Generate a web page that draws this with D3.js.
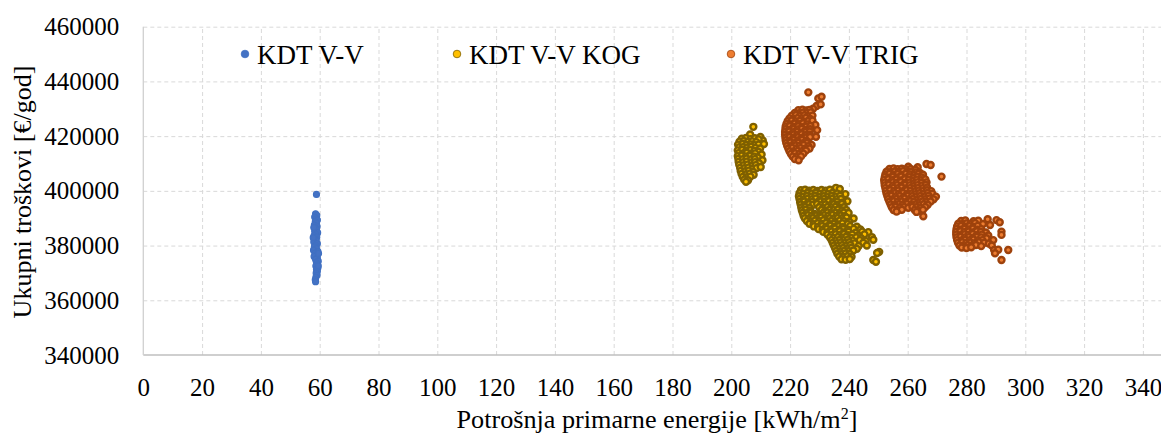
<!DOCTYPE html>
<html>
<head>
<meta charset="utf-8">
<script src="https://cdn.jsdelivr.net/npm/d3@7"></script>
<style>
  html, body { margin: 0; padding: 0; background: #fff; }
  svg { display: block; font-family: "Liberation Serif", "Times New Roman", serif; }
</style>
</head>
<body>
<svg id="chart" width="1161" height="434"></svg>
<script>
// Axis ticks
const xTicks = [0, 20, 40, 60, 80, 100, 120, 140, 160, 180, 200, 220, 240, 260, 280, 300, 320, 340];
const yTicks = [340000, 360000, 380000, 400000, 420000, 440000, 460000];

const seriesNames = ["KDT V-V", "KDT V-V KOG", "KDT V-V TRIG"];

// [primary energy kWh/m2, total cost EUR/year]
const vvPoints = [
  [58.9,398700],[58.6,391600],[59.0,391000],[58.3,390400],[58.8,389800],[59.2,389300],[58.5,388700],
  [58.9,388100],[58.2,387500],[59.1,387000],[58.6,386400],[58.9,385800],[58.3,385200],[59.3,384700],
  [58.7,384100],[58.1,383600],[59.0,383000],[58.5,382400],[58.8,381800],[58.0,381300],[59.2,380700],
  [58.6,380100],[58.2,379500],[58.9,378900],[57.9,378300],[59.4,377800],[58.4,377200],[58.8,376600],
  [58.1,376000],[59.2,375500],[58.6,374900],[59.5,374300],[58.9,373700],[59.2,373100],[58.7,372500],
  [59.4,371900],[58.9,371300],[59.2,370600],[58.8,369900],[59.1,369200],[58.7,368400],[58.5,367500],
  [58.6,366800],[57.8,382900],[59.6,377100],[58.0,386600],[59.5,372600]
];

const kogPoints = [
  // first group
  [207.5,423400],[206.4,420600],[209.9,419700],[210.7,418400],
  [203.6,419100],[205.0,419300],[206.5,418900],[208.0,419200],[209.3,418800],
  [202.8,418000],[204.2,418200],[205.7,417900],[207.1,418100],[208.5,417800],
  [202.3,416900],[203.8,417100],[205.2,416800],[206.6,417000],[208.0,416700],[209.3,416900],[211.1,417100],
  [202.6,415900],[204.0,416000],[205.4,415800],[206.8,416100],[208.2,415700],[209.8,415500],
  [202.2,414800],[203.7,415000],[205.1,414700],[206.5,414900],[207.9,414600],[209.2,414300],
  [202.5,413800],[203.9,413600],[205.3,413900],[206.7,413500],[208.1,413700],[210.3,413300],
  [202.2,412700],[203.6,412900],[205.0,412600],[206.4,412800],[207.8,412500],[209.0,412200],
  [202.4,411700],[203.8,411500],[205.2,411800],[206.6,411400],[208.0,411600],[210.6,411200],
  [202.5,410600],[203.9,410400],[205.3,410700],[206.7,410300],[208.1,410500],[209.4,410100],
  [202.7,409500],[204.1,409300],[205.5,409600],[206.9,409200],[208.3,409400],
  [203.0,408400],[204.4,408200],[205.8,408500],[207.2,408100],[208.6,408300],[210.0,408700],
  [203.2,407300],[204.6,407100],[206.0,407400],[207.4,407000],
  [203.5,406200],[204.9,406000],[206.3,406300],[207.6,405900],
  [203.9,405100],[205.2,404900],[206.5,405200],
  [204.4,404100],[205.7,403900],[205.0,403300],
  // second group
  [235.6,401100],[236.9,400700],[238.8,398800],[239.5,396200],
  [223.7,400200],[225.1,400400],[226.5,400100],[227.9,400300],[229.3,400000],[230.7,400300],[232.1,400100],[233.5,400400],
  [223.2,399100],[224.6,398900],[226.0,399200],[227.4,399000],[228.8,399300],[230.2,398900],[231.6,399100],[233.0,398800],[234.4,399200],[236.0,399000],
  [223.0,398000],[224.4,397800],[225.8,398100],[227.2,397900],[228.6,398200],[230.0,397800],[231.4,398000],[232.8,397700],[234.2,398100],[235.6,397900],[237.0,398200],
  [223.2,397000],[224.6,396800],[226.0,397100],[227.4,396900],[228.8,397200],[230.2,396800],[231.6,397000],[233.0,396700],[234.4,397100],[235.8,396900],[237.3,397000],
  [223.4,395900],[224.8,396100],[226.2,395800],[227.6,396000],[229.0,395700],[230.4,396100],[231.8,395900],[233.2,396200],[234.6,395800],[236.0,396000],[237.8,395700],
  [223.6,395000],[225.0,394800],[226.4,395100],[227.8,394900],[229.2,395200],[230.6,394800],[232.0,395000],[233.4,394700],[234.8,395100],[236.2,394900],[237.6,395200],
  [223.8,393900],[225.2,394100],[226.6,393800],[229.9,394000],[231.3,393700],[232.7,394100],[234.1,393900],[235.5,394200],[236.9,393800],[238.3,394000],
  [224.0,392900],[225.4,393100],[226.8,392800],[230.7,393000],[232.1,392700],[233.5,393100],[234.9,392900],[236.3,393200],[237.7,392800],[239.1,393000],
  [224.3,392000],[225.7,391800],[227.1,392100],[228.3,391600],[231.3,391900],[232.7,392100],[234.1,391800],[235.5,392000],[236.9,391700],[238.3,392100],[239.9,391900],
  [224.6,390900],[226.0,391100],[227.4,390800],[228.8,391000],[230.2,390700],[231.6,391100],[233.0,390900],[234.4,391200],[235.8,390800],[237.2,391000],[238.6,390700],
  [225.0,390000],[226.4,389800],[227.8,390100],[229.2,389900],[230.6,390200],[232.0,389800],[233.4,390000],[234.8,389700],[236.2,390100],[237.6,389900],[239.2,390200],[241.6,389900],
  [225.7,389000],[227.1,388800],[228.5,389100],[229.9,388900],[231.3,389200],[232.7,388800],[234.1,389000],[235.5,388700],[236.9,389100],[238.3,388900],[240.1,388700],
  [226.6,388000],[228.0,387800],[229.4,388100],[230.8,387900],[232.2,388200],[233.6,387800],[235.0,388000],[236.4,387700],[237.8,388100],[239.6,387900],
  [228.1,387000],[229.5,386800],[230.9,387100],[232.3,386900],[233.7,387200],[235.1,386800],[236.5,387000],[237.9,386700],[240.4,387100],[242.7,386900],
  [229.7,386000],[231.1,385800],[232.5,386100],[233.9,385900],[235.3,386200],[236.7,385800],[238.1,386000],[239.7,385700],[241.6,386100],[243.9,385900],
  [231.3,385000],[232.7,384800],[234.1,385100],[235.5,384900],[236.9,385200],[238.3,384800],[239.9,385000],[242.3,384700],[244.5,385100],[246.6,384900],
  [232.7,384000],[234.1,383800],[235.5,384100],[236.9,383900],[238.3,384200],[239.7,383800],[241.1,384000],[243.1,383700],[245.3,384100],
  [233.5,383000],[234.9,382800],[236.3,383100],[237.7,382900],[239.1,383200],[240.7,382800],[242.5,383000],[244.1,382700],[247.8,383100],
  [234.1,382000],[235.5,381800],[236.9,382100],[238.3,381900],[239.7,382200],[241.3,381800],[243.7,382000],[245.7,381700],[248.3,382100],
  [234.5,381000],[235.9,380800],[237.3,381100],[238.7,380900],[240.1,381200],[241.9,380800],[244.9,381000],
  [234.9,380000],[236.3,379800],[237.7,380100],[239.1,379900],[240.5,380200],[243.3,379800],[246.1,380000],
  [235.3,379000],[236.7,378800],[238.1,379100],[239.5,378900],[240.9,379200],[242.7,378800],
  [235.7,378000],[237.1,377800],[238.5,378100],[239.9,377900],[241.5,378200],[250.3,377700],
  [236.1,377000],[237.5,376800],[238.9,377100],[240.3,376900],[249.6,377300],
  [236.7,376000],[238.1,375800],[239.5,376100],[240.9,375900],
  [237.5,375000],[238.9,374800],[240.3,375100],[248.3,374700],[249.2,374100]
];

const trigPoints = [
  // first group
  [226.2,436000],[229.6,433800],[230.7,434400],[229.0,431000],[230.4,431600],[227.8,430000],
  [222.8,429500],[224.2,429700],[225.6,429400],[226.6,429600],
  [221.6,428500],[223.0,428300],[224.4,428600],[225.8,428400],[227.0,428700],
  [220.6,427500],[222.0,427700],[223.4,427400],[224.8,427600],[226.2,427300],[227.6,427500],
  [219.8,426500],[221.2,426300],[222.6,426600],[224.0,426400],[225.4,426700],[226.8,426300],
  [219.2,425500],[220.6,425700],[222.0,425400],[223.4,425600],[224.8,425300],[226.2,425500],[227.6,425700],
  [218.8,424500],[220.2,424300],[221.6,424600],[223.0,424400],[224.4,424700],[225.8,424300],[228.6,424100],
  [218.5,423500],[219.9,423700],[221.3,423400],[222.7,423600],[224.1,423300],[225.5,423500],[226.9,423700],
  [218.4,422500],[219.8,422300],[221.2,422600],[222.6,422400],[224.0,422700],[225.4,422300],[226.8,422500],[229.2,422200],
  [218.3,421500],[219.7,421700],[221.1,421400],[222.5,421600],[223.9,421300],[225.3,421500],[226.7,421700],
  [218.3,420500],[219.7,420300],[221.1,420600],[222.5,420400],[223.9,420700],[225.3,420300],[226.7,420500],
  [218.4,419500],[219.8,419700],[221.2,419400],[222.6,419600],[224.0,419300],[225.4,419500],[226.8,419700],[228.8,419800],
  [218.5,418500],[219.9,418300],[221.3,418600],[222.7,418400],[224.1,418700],[225.5,418300],
  [218.7,417500],[220.1,417700],[221.5,417400],[222.9,417600],[224.3,417300],[225.7,417500],[227.3,416800],
  [219.0,416500],[220.4,416300],[221.8,416600],[223.2,416400],[224.6,416700],[226.2,416300],
  [219.4,415500],[220.8,415700],[222.2,415400],[223.6,415600],[225.0,415300],[226.6,415500],
  [219.8,414500],[221.2,414300],[222.6,414600],[224.0,414400],[225.4,414700],
  [220.3,413500],[221.7,413700],[223.1,413400],[224.5,413600],
  [220.9,412500],[222.3,412300],[223.7,412600],
  [221.6,411600],[222.9,411200],
  // second group
  [260.2,408800],[263.4,408600],[266.4,409800],[267.8,409450],[271.5,405200],
  [253.8,408000],[255.2,408200],[256.6,407900],[258.0,408100],[259.4,407800],[261.0,408000],[262.6,407700],
  [252.8,407000],[254.2,406800],[255.6,407100],[257.0,406900],[258.4,407200],[259.8,406800],[261.2,407000],[262.6,406700],[264.2,406500],
  [252.4,406000],[253.8,406200],[255.2,405900],[256.6,406100],[258.0,405800],[259.4,406200],[260.8,406000],[262.2,405700],[263.6,406100],[265.2,405900],
  [252.2,405000],[253.6,404800],[255.0,405100],[256.4,404900],[257.8,405200],[259.2,404800],[260.6,405000],[262.0,404700],[263.4,405100],[264.8,404900],
  [252.0,404000],[253.4,404200],[254.8,403900],[256.2,404100],[257.6,403800],[259.0,404200],[260.4,404000],[261.8,403700],[263.2,404100],[264.6,403900],[266.0,404200],
  [252.1,403000],[253.5,402800],[254.9,403100],[256.3,402900],[257.7,403200],[259.1,402800],[260.5,403000],[261.9,402700],[263.3,403100],[264.7,402900],[266.4,403100],
  [252.2,402000],[253.6,402200],[255.0,401900],[256.4,402100],[257.8,401800],[259.2,402200],[260.6,402000],[262.0,401700],[263.4,402100],[264.8,401900],[266.2,402200],
  [252.4,401000],[253.8,400800],[255.2,401100],[256.6,400900],[258.0,401200],[259.4,400800],[260.8,401000],[262.2,400700],[263.6,401100],[265.0,400900],[266.6,401200],
  [252.6,400000],[254.0,400200],[255.4,399900],[256.8,400100],[258.2,399800],[259.6,400200],[261.0,400000],[262.4,399700],[263.8,400100],[265.2,399900],[266.6,400200],[268.0,399900],
  [252.8,399000],[254.2,398800],[255.6,399100],[257.0,398900],[258.4,399200],[259.8,398800],[261.2,399000],[262.6,398700],[264.0,399100],[265.4,398900],[266.8,399200],[268.4,398900],
  [253.1,398000],[254.5,398200],[255.9,397900],[257.3,398100],[258.7,397800],[260.1,398200],[261.5,398000],[262.9,397700],[264.3,398100],[265.7,397900],[267.1,398200],[269.6,397900],
  [253.4,397000],[254.8,396800],[256.2,397100],[257.6,396900],[259.0,397200],[260.4,396800],[261.8,397000],[263.2,396700],[264.6,397100],[266.0,396900],[267.4,397200],[268.8,396900],
  [253.8,396000],[255.2,396200],[256.6,395900],[258.0,396100],[259.4,395800],[260.8,396200],[262.2,396000],[263.6,395700],[265.0,396100],[266.4,395900],[267.8,396100],
  [254.2,395000],[255.6,394800],[257.0,395100],[258.4,394900],[259.8,395200],[261.2,394800],[262.6,395000],[264.0,394700],[265.4,395100],[266.8,394900],
  [254.6,394000],[256.0,394200],[257.4,393900],[258.8,394100],[260.2,393800],[261.6,394200],[263.0,394000],[264.4,393700],[266.0,394100],
  [255.2,393000],[256.6,392800],[258.0,393100],[262.4,393000],[263.8,392700],[265.2,393100],
  [256.2,392400],[263.0,392300],[265.3,390700],
  // third group
  [287.2,389600],[290.2,389300],[291.3,388500],
  [278.2,389000],[279.6,389200],[282.4,388900],[284.0,389100],
  [277.2,388000],[278.6,387800],[280.0,388100],[281.4,387900],[282.9,388200],[285.6,387900],
  [276.8,387000],[278.2,387200],[279.6,386900],[281.0,387100],[282.4,386800],[283.8,387200],[288.0,387500],
  [276.6,386000],[278.0,385800],[279.4,386100],[280.8,385900],[282.2,386200],[283.6,385800],[285.0,386000],
  [276.5,385000],[277.9,385200],[279.3,384900],[280.7,385100],[282.1,384800],[283.5,385200],[284.9,385000],[286.6,384800],[291.9,385100],
  [276.5,384000],[277.9,383800],[279.3,384100],[280.7,383900],[282.1,384200],[283.5,383800],[285.2,384000],[287.4,383700],
  [276.6,383000],[278.0,383200],[279.4,382900],[280.8,383100],[282.2,382800],[283.6,383200],[285.0,383000],[286.8,382700],[291.9,383900],
  [276.8,382000],[278.2,381800],[279.6,382100],[281.0,381900],[282.4,382200],[283.8,381800],[285.4,382000],[289.1,382000],
  [277.1,381000],[278.5,381200],[279.9,380900],[281.3,381100],[282.7,380800],[284.2,381200],[286.0,381000],[287.6,380700],
  [277.6,380000],[279.0,379800],[280.4,380100],[281.8,379900],[283.2,380200],[285.0,379800],[288.6,380000],
  [278.4,379300],[280.0,379100],[281.6,379400],
  [289.4,378400],[290.8,378500],[294.2,378400],[289.7,377200],[291.9,374700]
];

const series = [
  { name: seriesNames[0], points: vvPoints,   fill: "#4472c4", stroke: "#4070c2", sw: 1.2 },
  { name: seriesNames[1], points: kogPoints,  fill: "#ffc000", stroke: "#7f6000", sw: 2.4 },
  { name: seriesNames[2], points: trigPoints, fill: "#ed7d31", stroke: "#9e420c", sw: 2.4 }
];

const serif = "'Liberation Serif', 'Times New Roman', serif";
const svg = d3.select("#chart");
const plotLeft = 143.3, plotRight = 1161, plotTop = 26.7, plotBottom = 355;

const x = d3.scaleLinear().domain([0, 340]).range([plotLeft, 1142.9]);
const y = d3.scaleLinear().domain([340000, 460000]).range([plotBottom, plotTop]);

// dashed gridlines
const gridX = svg.append("g")
  .attr("transform", `translate(0,${plotBottom})`)
  .call(d3.axisBottom(x).tickValues(xTicks.slice(1)).tickSize(-(plotBottom - plotTop)).tickFormat(""));
const gridY = svg.append("g")
  .attr("transform", `translate(${plotLeft},0)`)
  .call(d3.axisLeft(y).tickValues(yTicks.slice(1)).tickSize(-(plotRight - plotLeft)).tickFormat(""));
[gridX, gridY].forEach(g => {
  g.select(".domain").remove();
  g.selectAll(".tick line")
    .attr("stroke", "#d9d9d9")
    .attr("stroke-width", 1)
    .attr("stroke-dasharray", "4,3");
});

// axis lines
svg.append("line").attr("x1", plotLeft).attr("x2", plotRight).attr("y1", plotBottom).attr("y2", plotBottom)
  .attr("stroke", "#bfbfbf").attr("stroke-width", 1.3);
svg.append("line").attr("x1", plotLeft).attr("x2", plotLeft).attr("y1", plotTop).attr("y2", plotBottom)
  .attr("stroke", "#d0d0d0").attr("stroke-width", 1.3);

// tick labels
const axisY = svg.append("g")
  .attr("transform", `translate(${plotLeft},0)`)
  .call(d3.axisLeft(y).tickValues(yTicks).tickSize(0).tickPadding(24).tickFormat(d3.format("d")));
const axisX = svg.append("g")
  .attr("transform", `translate(0,${plotBottom})`)
  .call(d3.axisBottom(x).tickValues(xTicks).tickSize(0).tickPadding(23).tickFormat(d3.format("d")));
[axisX, axisY].forEach(g => {
  g.attr("font-family", serif).attr("font-size", 25);
  g.select(".domain").remove();
  g.selectAll("text").attr("fill", "#000");
});

// markers
series.forEach(s => {
  svg.append("g")
    .selectAll("circle")
    .data(s.points)
    .join("circle")
    .attr("cx", d => x(d[0]))
    .attr("cy", d => y(d[1]))
    .attr("r", 3)
    .attr("fill", s.fill)
    .attr("stroke", s.stroke)
    .attr("stroke-width", s.sw);
});

// legend
const legendX = [245, 457, 731];
const legend = svg.append("g").attr("font-family", serif);
series.forEach((s, i) => {
  const g = legend.append("g").attr("transform", `translate(${legendX[i]},54)`);
  g.append("circle").attr("r", 3.8).attr("fill", s.fill).attr("stroke", s.stroke).attr("stroke-width", 0.8);
  g.append("text").attr("x", 12).attr("y", 9.5)
    .attr("font-size", 27).attr("fill", "#000")
    .text(s.name);
});

// axis titles
const xTitle = svg.append("text")
  .attr("x", 657).attr("y", 428)
  .attr("text-anchor", "middle")
  .attr("font-family", serif)
  .attr("font-size", 26.2).attr("fill", "#000");
xTitle.append("tspan").text("Potrošnja primarne energije [kWh/m");
xTitle.append("tspan").attr("font-size", 16).attr("dy", -9).text("2");
xTitle.append("tspan").attr("dy", 9).text("]");

svg.append("text")
  .attr("transform", "translate(31,192) rotate(-90)")
  .attr("text-anchor", "middle")
  .attr("font-family", serif)
  .attr("font-size", 26).attr("fill", "#000")
  .text("Ukupni troškovi [€/god]");
</script>
</body>
</html>
